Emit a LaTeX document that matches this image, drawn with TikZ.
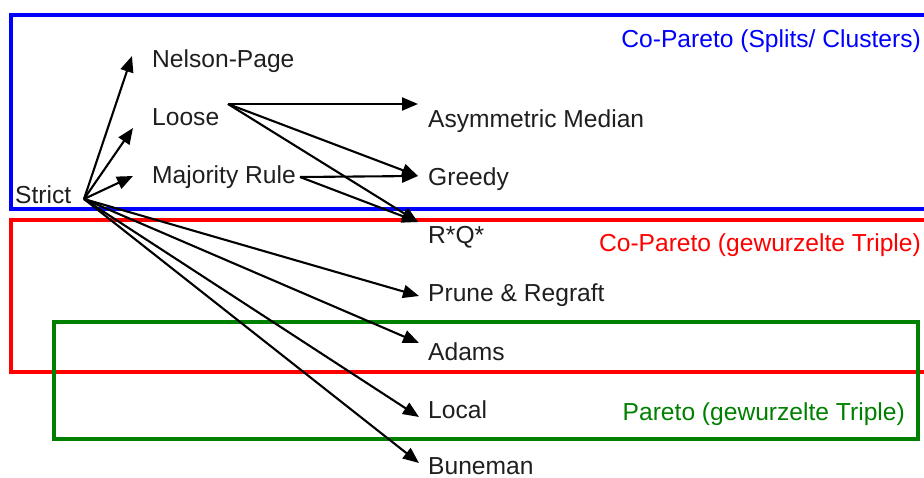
\documentclass[tikz,border=0pt]{standalone}
\usepackage{fontspec}
\setmainfont{Liberation Sans}
\usetikzlibrary{arrows.meta}
\definecolor{boxblue}{RGB}{0,0,255}
\definecolor{boxred}{RGB}{255,0,0}
\definecolor{boxgreen}{RGB}{0,128,0}
\tikzset{
  lbl/.style={inner sep=0pt, anchor=base west, font=\fontsize{24.6}{28}\selectfont, text=black!88},
  grouplbl/.style={inner sep=0pt, anchor=base east, font=\fontsize{24.6}{28}\selectfont},
  groupbox/.style={line width=3.2pt},
  arr/.style={line width=2.1pt, -{Triangle[length=16pt,width=13pt]}},
}
\begin{document}
\begin{tikzpicture}[x=1pt,y=-1pt]
  \useasboundingbox (0,0) rectangle (924,478);
  \clip (0,0) rectangle (924,478);
  \fill[white] (0,0) rectangle (924,478);

  % group frames
  \draw[groupbox, boxblue]  (11,15)  rectangle (935,209);
  \draw[groupbox, boxred]   (11,220) rectangle (935,372);
  \draw[groupbox, boxgreen] (54,322) rectangle (918,439);

  % group captions
  \node[grouplbl, text=boxblue]  (cap1) at (921,48)  {Co-Pareto (Splits/ Clusters)};
  \node[grouplbl, text=boxred]   (cap2) at (921,252) {Co-Pareto (gewurzelte Triple)};
  \node[grouplbl, text=boxgreen] (cap3) at (905,420) {Pareto (gewurzelte Triple)};

  % consensus methods
  \node[lbl] (strict) at (15,204)  {Strict};
  \node[lbl] (np)     at (152,68)  {Nelson-Page};
  \node[lbl] (loose)  at (152,126) {Loose};
  \node[lbl] (mr)     at (152,184) {Majority Rule};
  \node[lbl] (asym)   at (428,128) {Asymmetric Median};
  \node[lbl] (greedy) at (428,186) {Greedy};
  \node[lbl] (rq)     at (428,244) {R*Q*};
  \node[lbl] (prune)  at (428,302) {Prune \& Regraft};
  \node[lbl] (adams)  at (428,360) {Adams};
  \node[lbl] (local)  at (428,418) {Local};
  \node[lbl] (bune)   at (428,474) {Buneman};

  % refinement arrows
  \draw[arr] ([shift={(69,-5)}]strict.base west) -- ([shift={(-20,-12)}]np.base west);
  \draw[arr] ([shift={(69,-5)}]strict.base west) -- ([shift={(-19,2)}]loose.base west);
  \draw[arr] ([shift={(69,-5)}]strict.base west) -- ([shift={(-19,-8)}]mr.base west);
  \draw[arr] ([shift={(69,-5)}]strict.base west) -- ([shift={(-9,-6)}]prune.base west);
  \draw[arr] ([shift={(69,-5)}]strict.base west) -- ([shift={(-9,-17)}]adams.base west);
  \draw[arr] ([shift={(69,-5)}]strict.base west) -- ([shift={(-9,-1)}]local.base west);
  \draw[arr] ([shift={(69,-5)}]strict.base west) -- ([shift={(-9,-11)}]bune.base west);

  \draw[arr] ([shift={(76,-22)}]loose.base west) -- ([shift={(-10,-24)}]asym.base west);
  \draw[arr] ([shift={(76,-22)}]loose.base west) -- ([shift={(-10,-10)}]greedy.base west);
  \draw[arr] ([shift={(76,-22)}]loose.base west) -- ([shift={(-10,-22)}]rq.base west);

  \draw[arr] ([shift={(148,-7)}]mr.base west) -- ([shift={(-10,-10)}]greedy.base west);
  \draw[arr] ([shift={(148,-7)}]mr.base west) -- ([shift={(-10,-22)}]rq.base west);
\end{tikzpicture}
\end{document}
